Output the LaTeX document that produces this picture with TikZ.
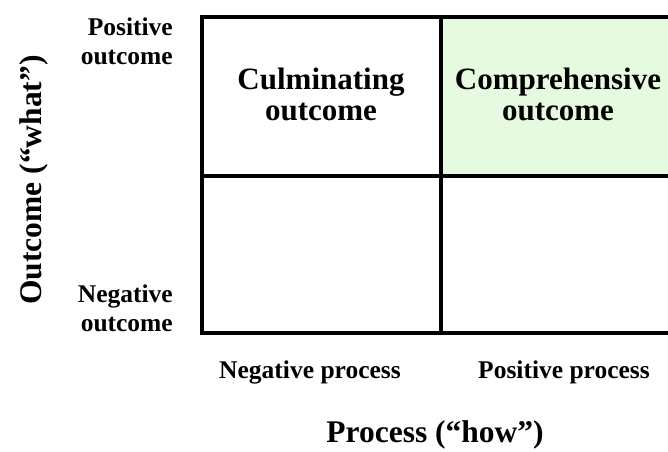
\documentclass[tikz,border=0pt]{standalone}
\usepackage{fontspec}
\setmainfont{Liberation Serif}
\definecolor{cellgreen}{RGB}{230,250,224}
\begin{document}
\begin{tikzpicture}[x=1pt,y=-1pt,
  gridline/.style={line width=4pt,draw=black},
  smalllab/.style={font=\bfseries\fontsize{25.5}{29}\selectfont,inner sep=0pt},
  celllab/.style={font=\bfseries\fontsize{31}{31}\selectfont,inner sep=0pt,align=center,anchor=base},
  axislab/.style={font=\bfseries\fontsize{31.5}{34}\selectfont,inner sep=0pt,anchor=base}]
\useasboundingbox (0,0) rectangle (668,451);
% cells
\fill[cellgreen] (441,17) rectangle (668,176);
\coordinate (tl) at (202,17);
\coordinate (tr) at (668,17);
\coordinate (bl) at (202,333);
\coordinate (br) at (668,333);
\coordinate (mt) at (441,17);
\coordinate (mb) at (441,333);
\coordinate (ml) at (202,176);
\coordinate (mr) at (668,176);
\draw[gridline] (tr) -- (tl) -- (bl) -- (br);
\draw[gridline] (mt) -- (mb);
\draw[gridline] (ml) -- (mr);
% cell labels (anchor = baseline of last line)
\node[celllab] (culm) at (321,120) {Culminating\\outcome};
\node[celllab] (comp) at (558,120) {Comprehensive\\outcome};
% row labels
\node[smalllab,align=right,anchor=base east] (posout) at (173,64) {Positive\\outcome};
\node[smalllab,align=right,anchor=base east] (negout) at (173,331) {Negative\\outcome};
% column labels
\node[smalllab,anchor=base] (negproc) at (310,378) {Negative process};
\node[smalllab,anchor=base] (posproc) at (564,378) {Positive process};
% axis titles
\node[axislab] (xaxis) at (435,442) {Process (“how”)};
\node[axislab,rotate=90] (yaxis) at (41,180) {Outcome (“what”)};
\end{tikzpicture}
\end{document}
